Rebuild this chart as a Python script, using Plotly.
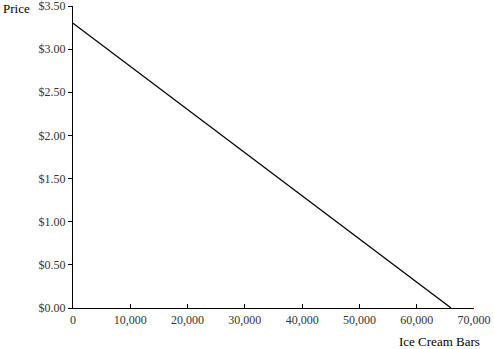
import plotly.graph_objects as go

quantity = [0, 66000]
price = [3.30, 0.00]

y_ticks = [0, 0.5, 1.0, 1.5, 2.0, 2.5, 3.0, 3.5]
y_labels = ["$0.00", "$0.50", "$1.00", "$1.50", "$2.00", "$2.50", "$3.00", "$3.50"]
x_ticks = [0, 10000, 20000, 30000, 40000, 50000, 60000, 70000]
x_labels = ["0", "10,000", "20,000", "30,000", "40,000", "50,000", "60,000", "70,000"]

font = "Liberation Serif"

fig = go.Figure()
fig.add_trace(go.Scatter(x=quantity, y=price, mode="lines",
                         line=dict(color="black", width=1.3), showlegend=False,
                         hoverinfo="skip"))

fig.update_layout(
    width=494, height=349,
    margin=dict(l=73, r=20, t=6, b=41, autoexpand=False),
    paper_bgcolor="white", plot_bgcolor="white",
    font=dict(family=font, size=12, color="#222"),
    xaxis=dict(range=[0, 70000], tickvals=x_ticks, ticktext=x_labels,
               showgrid=False, zeroline=False, showline=True, linecolor="black",
               linewidth=1.2, ticks="inside", ticklen=4, tickcolor="black",
               ticklabeloverflow="allow", automargin=False,
               tickfont=dict(family=font, size=12, color="#333")),
    yaxis=dict(range=[0, 3.5], tickvals=y_ticks, ticktext=y_labels,
               showgrid=False, zeroline=False, showline=True, linecolor="black",
               linewidth=1.2, ticks="outside", ticklen=4, tickcolor="black",
               ticklabeloverflow="allow", automargin=False,
               tickfont=dict(family=font, size=12, color="#333")),
    annotations=[
        dict(text="Price", xref="paper", yref="paper", x=-72/401, y=1.0,
             xanchor="left", yanchor="middle", yshift=-2, showarrow=False,
             font=dict(family=font, size=13, color="black")),
        dict(text="Ice Cream Bars", xref="paper", yref="paper", x=1.02, y=0,
             xanchor="right", yanchor="middle", yshift=-33, showarrow=False,
             font=dict(family=font, size=13, color="black")),
    ],
)

fig.write_html("out.html")
